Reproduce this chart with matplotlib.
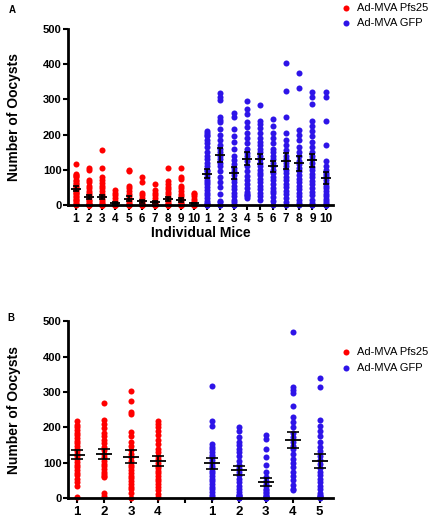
import matplotlib.pyplot as plt
import numpy as np

plt.rcParams['font.family'] = ['Liberation Sans', 'DejaVu Sans']

# Panel A: oocysts per mosquito for each individual mouse
pfs25_a = [
    [115, 88, 85, 82, 78, 72, 68, 62, 58, 55, 50, 46, 42, 38, 35, 30, 26, 22, 18, 14, 10, 6, 3, 0],
    [105, 100, 72, 65, 55, 48, 40, 35, 28, 22, 15, 10, 5, 3] + [0] * 13,
    [157, 105, 78, 70, 62, 55, 48, 40, 32, 25, 18, 12, 6] + [0] * 19,
    [42, 35, 28, 20, 12, 6, 2] + [0] * 22,
    [100, 95, 55, 48, 40, 32, 25, 18, 12, 6] + [0] * 14,
    [78, 65, 35, 28, 20, 12, 6] + [0] * 17,
    [58, 42, 35, 28, 20, 12, 6, 2] + [0] * 17,
    [106, 68, 60, 52, 45, 38, 30, 22, 15, 8, 3] + [0] * 14,
    [104, 80, 75, 55, 48, 40, 32, 25, 18, 10, 4] + [0] * 24,
    [35, 30, 25, 18, 10, 4] + [0] * 24,
]
gfp_a = [
    [210, 205, 200, 195, 185, 175, 165, 150, 140, 130, 120, 110, 100, 95, 88, 80, 72, 65, 58, 50,
     42, 35, 28, 20, 12, 5, 3, 0, 0, 0, 0],
    [318, 308, 298, 250, 242, 235, 215, 200, 185, 170, 160, 150, 140, 130, 120, 110, 95, 80, 65,
     50, 30, 10, 8, 0, 0],
    [261, 250, 215, 195, 180, 160, 140, 128, 115, 105, 95, 85, 75, 65, 55, 45, 35, 25, 15, 8, 0, 0, 0, 0, 0],
    [296, 272, 258, 235, 222, 205, 190, 175, 160, 148, 138, 125, 110, 95, 82, 70, 58, 48, 38, 30,
     28, 25, 20],
    [284, 240, 230, 220, 205, 190, 180, 170, 160, 150, 140, 130, 120, 110, 100, 92, 85, 75, 65, 55,
     45, 35, 25, 15],
    [244, 225, 205, 190, 175, 160, 150, 140, 130, 120, 110, 100, 90, 80, 70, 60, 48, 40, 35, 22, 10, 0],
    [404, 325, 250, 204, 185, 170, 155, 140, 130, 120, 110, 100, 90, 80, 70, 60, 50, 40, 30, 20, 8, 0],
    [376, 332, 213, 200, 185, 165, 150, 138, 125, 115, 105, 95, 85, 75, 65, 55, 45, 35, 25, 15, 5, 0],
    [320, 306, 286, 240, 225, 210, 195, 180, 165, 150, 140, 130, 118, 108, 98, 88, 78, 68, 58, 48,
     38, 28, 15, 5, 0, 0],
    [322, 308, 238, 170, 125, 110, 100, 92, 85, 78, 70, 62, 55, 48, 40, 32, 25, 18, 10, 5, 0, 0, 0,
     0, 0, 0],
]

# Panel B: pooled groups
pfs25_b = [
    [217, 208, 200, 192, 185, 178, 170, 162, 155, 148, 140, 132, 125, 118, 110, 103, 95, 88, 80, 72,
     65, 55, 45, 35, 2],
    [270, 222, 210, 198, 185, 175, 165, 155, 145, 135, 125, 115, 105, 98, 90, 82, 75, 68, 62, 60, 15, 5],
    [303, 275, 245, 238, 188, 175, 160, 148, 135, 125, 115, 105, 95, 88, 80, 72, 64, 56, 48, 40, 32,
     25, 15, 0],
    [218, 210, 200, 190, 178, 165, 152, 140, 130, 120, 110, 100, 92, 85, 78, 70, 62, 55, 48, 40, 32,
     22, 12, 3],
]
gfp_b = [
    [316, 218, 203, 154, 145, 138, 130, 122, 115, 108, 100, 92, 85, 78, 70, 62, 55, 48, 40, 32, 25,
     18, 10, 4],
    [201, 190, 172, 160, 150, 140, 130, 118, 105, 95, 85, 75, 65, 55, 45, 35, 25, 18, 10, 8, 5, 3, 0, 0],
    [179, 168, 140, 115, 95, 75, 60, 48, 40, 33, 27, 22, 18, 14, 10, 7, 4, 2, 0, 0, 0, 0, 0],
    [470, 313, 305, 297, 260, 230, 215, 200, 185, 172, 160, 148, 138, 125, 112, 100, 88, 75, 62, 50,
     38, 25, 22],
    [341, 313, 220, 205, 190, 175, 160, 145, 132, 120, 108, 96, 85, 75, 65, 55, 45, 35, 25, 15, 8,
     5, 3, 2, 0],
]

labels_a = [str(i) for i in range(1, 11)] * 2
labels_b = ['1', '2', '3', '4', '', '1', '2', '3', '4', '5']

RED = '#ff0000'
BLUE = '#2e14e8'
DOT = 19


def draw_groups(ax, groups, positions, color, mean_w, cap_w):
    for pos, vals in zip(positions, groups):
        vals = np.asarray(vals, dtype=float)
        ax.scatter(np.full(len(vals), pos), vals, s=DOT, color=color, linewidths=0,
                   clip_on=False, zorder=2)
        m = vals.mean()
        sem = vals.std(ddof=1) / np.sqrt(len(vals))
        ax.hlines(m, pos - mean_w, pos + mean_w, color='black', lw=1.3, zorder=3)
        ax.errorbar(pos, m, yerr=sem, fmt='none', ecolor='black', elinewidth=1.2,
                    capsize=cap_w, capthick=1.2, zorder=3)


def style_axes(ax):
    for side in ('top', 'right'):
        ax.spines[side].set_visible(False)
    for side in ('left', 'bottom'):
        ax.spines[side].set_linewidth(2)
    ax.set_ylim(0, 500)
    ax.set_yticks([0, 100, 200, 300, 400, 500])
    ax.tick_params(axis='y', width=1.5, length=3.5, labelsize=8, pad=1)
    ax.tick_params(axis='x', width=1.5, length=3.5, pad=2)
    for lab in ax.get_yticklabels():
        lab.set_fontweight('bold')
    ax.set_ylabel('Number of Oocysts', fontsize=10, fontweight='bold', labelpad=16)


fig = plt.figure(figsize=(4.3, 5.2), dpi=100)

# ---- A
axA = fig.add_axes([0.158, 0.606, 0.616, 0.338])
pos_red_a = np.arange(1, 11)
pos_blue_a = np.arange(11, 21)
draw_groups(axA, pfs25_a, pos_red_a, RED, 0.38, 2)
draw_groups(axA, gfp_a, pos_blue_a, BLUE, 0.38, 2)
axA.set_xlim(0.39, 20.55)
axA.set_xticks(np.arange(1, 21))
axA.set_xticklabels(labels_a, fontsize=8.5, fontweight='bold')
style_axes(axA)
axA.set_xlabel('Individual Mice', fontsize=10, fontweight='bold', labelpad=1)
fig.text(0.02, 0.99, 'A', fontsize=7, fontweight='bold', va='top')

hA = [axA.scatter([], [], s=DOT, color=RED, linewidths=0),
      axA.scatter([], [], s=DOT, color=BLUE, linewidths=0)]
fig.legend(hA, ['Ad-MVA Pfs25', 'Ad-MVA GFP'], loc='upper left',
           bbox_to_anchor=(0.765, 1.014), frameon=False, fontsize=8,
           handletextpad=0.4, labelspacing=0.5, handlelength=1.2)

# ---- B
axB = fig.add_axes([0.158, 0.042, 0.616, 0.340])
pos_red_b = np.arange(1, 5)
pos_blue_b = np.arange(6, 11)
draw_groups(axB, pfs25_b, pos_red_b, RED, 0.3, 4)
draw_groups(axB, gfp_b, pos_blue_b, BLUE, 0.3, 4)
axB.set_xlim(0.66, 10.49)
axB.set_xticks(np.arange(1, 11))
axB.set_xticklabels(labels_b, fontsize=9.5, fontweight='bold')
style_axes(axB)
fig.text(0.018, 0.398, 'B', fontsize=7, fontweight='bold', va='top')

hB = [axB.scatter([], [], s=DOT, color=RED, linewidths=0),
      axB.scatter([], [], s=DOT, color=BLUE, linewidths=0)]
fig.legend(hB, ['Ad-MVA Pfs25', 'Ad-MVA GFP'], loc='upper left',
           bbox_to_anchor=(0.765, 0.352), frameon=False, fontsize=8,
           handletextpad=0.4, labelspacing=0.5, handlelength=1.2)

fig.savefig('out.png', dpi=100)
